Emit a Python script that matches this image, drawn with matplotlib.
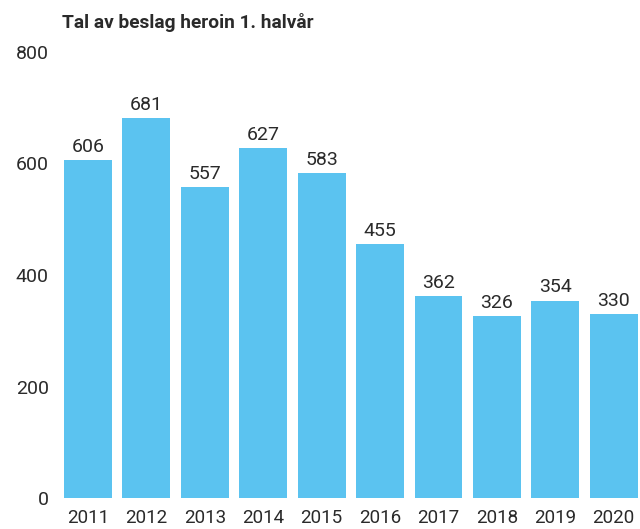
import numpy as np
import matplotlib
matplotlib.use("Agg")
import matplotlib.pyplot as plt

plt.rcParams["font.family"] = ["Roboto", "DejaVu Sans"]

years = ["2011", "2012", "2013", "2014", "2015", "2016", "2017", "2018", "2019", "2020"]
seizures = [606, 681, 557, 627, 583, 455, 362, 326, 354, 330]
y_ticks = [0, 200, 400, 600, 800]

title = "Tal av beslag heroin 1. halvår"
bar_color = "#5bc3f0"
text_color = "#2a2a2a"

fig = plt.figure(figsize=(6.4, 5.29), dpi=100)
ax = fig.add_axes([60 / 640, 1 - 498 / 529, 580 / 640, 446 / 529])

x = np.arange(len(years))
ax.bar(x, seizures, width=0.82, color=bar_color)

for xi, v in zip(x, seizures):
    ax.annotate(str(v), (xi, v), xytext=(0, 3), textcoords="offset points",
                ha="center", va="bottom", fontsize=14, color=text_color)

ax.set_xlim(-0.48, 9.45)
ax.set_ylim(0, 800)
ax.set_xticks(x)
ax.set_xticklabels(years)
ax.set_yticks(y_ticks)
ax.tick_params(axis="both", length=0, colors=text_color)
ax.tick_params(axis="y", pad=8, labelsize=14)
ax.tick_params(axis="x", pad=8, labelsize=13.5)
for s in ax.spines.values():
    s.set_visible(False)

fig.text(62 / 640, 1 - 23 / 529, title, ha="left", va="center",
         fontsize=13.8, fontweight="bold", color=text_color)

fig.savefig("out.png", dpi=100)
